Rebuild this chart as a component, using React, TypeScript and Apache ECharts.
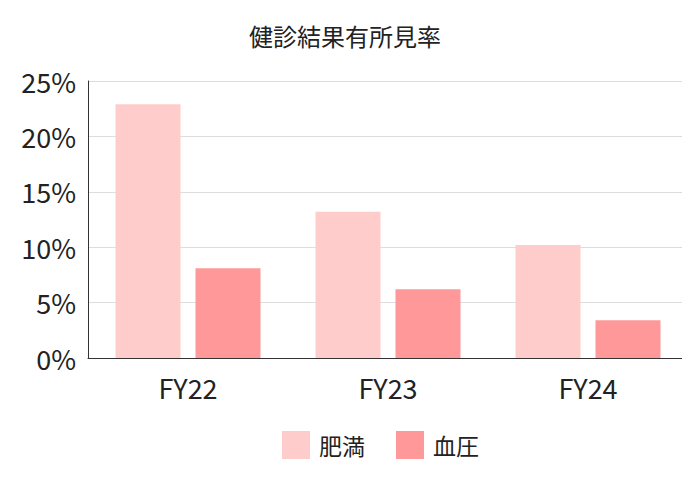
import React, { useEffect, useRef } from "react";
import * as echarts from "echarts";

const titleText = "健診結果有所見率";
const categories = ["FY22", "FY23", "FY24"];
const seriesNames = ["肥満", "血圧"];
const obesity = [22.9, 13.2, 10.2];
const bloodPressure = [8.1, 6.2, 3.4];
const colors = ["#ffcccc", "#ff9999"];

export default function App() {
  const ref = useRef<HTMLDivElement>(null);
  useEffect(() => {
    if (!ref.current) return;
    const chart = echarts.init(ref.current, null, { renderer: "svg" });
    const font = "'Noto Sans CJK JP', 'Noto Sans', sans-serif";
    chart.setOption({
      animation: false,
      color: colors,
      textStyle: { fontFamily: font },
      title: {
        text: titleText,
        left: "center",
        top: 18,
        textStyle: { fontSize: 24, fontWeight: "normal", color: "#222", fontFamily: font },
      },
      legend: {
        left: 277,
        top: 426,
        itemWidth: 28,
        itemHeight: 28,
        itemGap: 31,
        icon: "rect",
        textStyle: { fontSize: 23, color: "#222", fontFamily: font, padding: [0, 0, 2, 4] },
        data: seriesNames,
      },
      grid: { left: 88, right: 2, top: 81, bottom: 122, containLabel: false },
      xAxis: {
        type: "category",
        data: categories,
        axisLine: { show: true, lineStyle: { color: "#333", width: 1 } },
        axisTick: { show: false },
        axisLabel: { fontSize: 27, color: "#222", margin: 16, fontFamily: font },
      },
      yAxis: {
        type: "value",
        min: 0,
        max: 25,
        interval: 5,
        axisLine: { show: true, lineStyle: { color: "#333", width: 1 } },
        axisTick: { show: false },
        splitLine: { show: true, lineStyle: { color: "#dddddd", width: 1 } },
        axisLabel: { fontSize: 27, color: "#222", margin: 12, formatter: "{value}%", fontFamily: font },
      },
      series: [
        {
          name: seriesNames[0],
          type: "bar",
          data: obesity,
          barCategoryGap: "27.5%",
          barGap: "23%",
        },
        {
          name: seriesNames[1],
          type: "bar",
          data: bloodPressure,
          barCategoryGap: "27.5%",
          barGap: "23%",
        },
      ],
    });
    return () => chart.dispose();
  }, []);
  return <div ref={ref} style={{ width: 690, height: 480, margin: -8 }} />;
}
